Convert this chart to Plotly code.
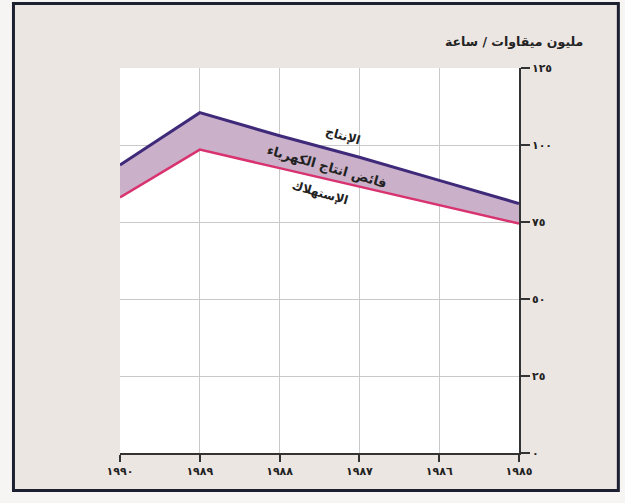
import plotly.graph_objects as go

years = [1990, 1989, 1988, 1987, 1986, 1985]
year_labels = ["١٩٩٠", "١٩٨٩", "١٩٨٨", "١٩٨٧", "١٩٨٦", "١٩٨٥"]
production = [93.5, 110.5, 103, 96, 88.5, 81]
consumption = [83, 98.5, 92.5, 86.5, 80.5, 74.5]
y_ticks = [0, 25, 50, 75, 100, 125]
y_labels = ["٠", "٢٥", "٥٠", "٧٥", "١٠٠", "١٢٥"]

FONT = "DejaVu Sans"
DARK = "#222"

fig = go.Figure()
fig.add_trace(go.Scatter(x=years, y=consumption, mode="lines",
                         line=dict(color="#d8326f", width=2.5), showlegend=False))
fig.add_trace(go.Scatter(x=years, y=production, mode="lines",
                         line=dict(color="#3f2a7a", width=3), fill="tonexty",
                         fillcolor="#cbb0ca", showlegend=False))

# outer frame with tinted page background
fig.add_shape(type="rect", xref="paper", yref="paper",
              x0=-0.267, x1=1.249, y0=-0.0975, y1=1.1675,
              line=dict(color="#1c2030", width=3), fillcolor="#ece6e3", layer="below")
# white plotting panel
fig.add_shape(type="rect", xref="paper", yref="paper", x0=0, x1=1, y0=0, y1=1,
              line=dict(width=0), fillcolor="#ffffff", layer="below")

ann_font = dict(family=FONT, size=12, color=DARK, weight="bold")
fig.add_annotation(x=1987.2, y=102.8, text="الإنتاج", showarrow=False,
                   textangle=16, font=ann_font)
fig.add_annotation(x=1987.41, y=93, text="فائض انتاج الكهرباء", showarrow=False,
                   textangle=16, font=dict(family=FONT, size=13, color=DARK, weight="bold"))
fig.add_annotation(x=1987.49, y=84.3, text="الإستهلاك", showarrow=False,
                   textangle=16, font=ann_font)
fig.add_annotation(xref="paper", yref="paper", x=1.165, y=1.068, xanchor="right",
                   yanchor="middle", text="مليون ميقاوات / ساعة", showarrow=False,
                   font=dict(family=FONT, size=12.5, color=DARK, weight="bold"))

fig.update_xaxes(range=[1990, 1985], tickvals=years, ticktext=year_labels,
                 showgrid=True, gridcolor="#c9c9c9", gridwidth=1,
                 showline=True, linecolor="#333", linewidth=2,
                 ticks="outside", ticklen=7, tickcolor="#333", tickwidth=1.5,
                 tickfont=dict(family=FONT, size=11, color=DARK, weight="bold"),
                 zeroline=False)
fig.update_yaxes(range=[0, 125], tickvals=y_ticks, ticktext=y_labels, side="right",
                 showgrid=True, gridcolor="#c9c9c9", gridwidth=1,
                 showline=True, linecolor="#333", linewidth=1.5,
                 ticks="outside", ticklen=9, tickcolor="#333", tickwidth=1.5,
                 tickfont=dict(family=FONT, size=11, color=DARK, weight="bold"),
                 zeroline=False)

fig.update_layout(width=625, height=503,
                  margin=dict(l=120, r=106, t=68, b=50),
                  paper_bgcolor="#f7f5f4", plot_bgcolor="#ffffff",
                  font=dict(family=FONT))
fig.write_html("out.html", config={"displayModeBar": False},
               post_script="document.body.style.margin='0';document.body.style.padding='0';")
